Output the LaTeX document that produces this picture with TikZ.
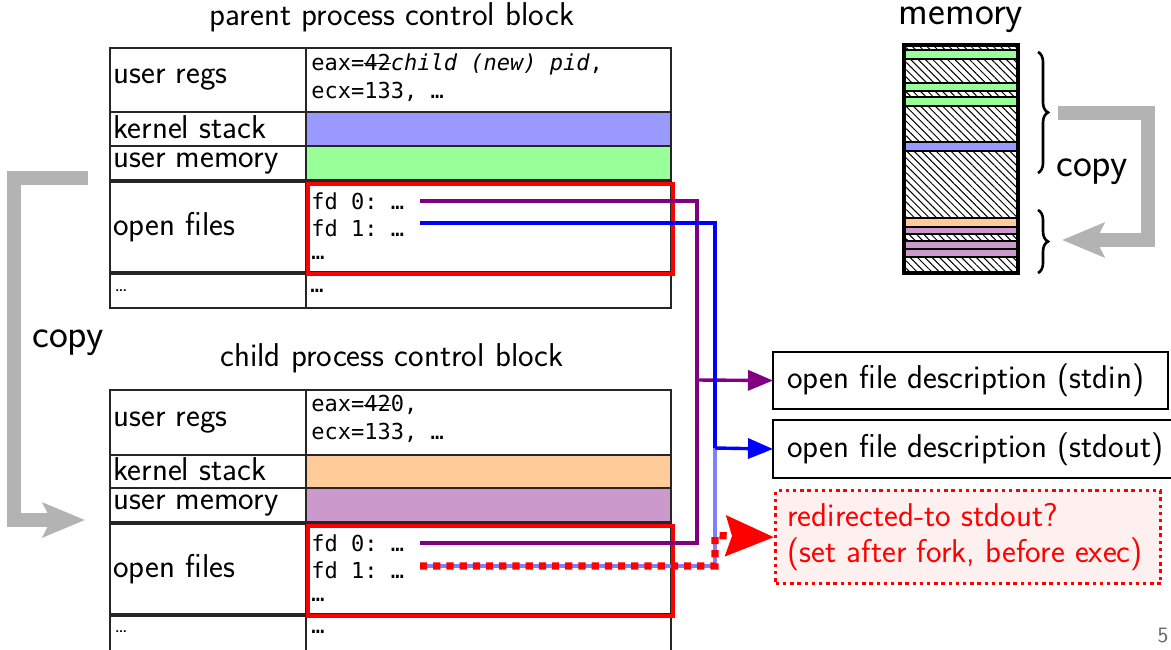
\documentclass[tikz,border=0pt]{standalone}
\usepackage{fontspec}
\setmonofont{DejaVu Sans Mono}
\usetikzlibrary{arrows.meta,patterns.meta,decorations.pathreplacing,calc}

\definecolor{kstackA}{HTML}{9999FF}
\definecolor{umemA}{HTML}{99FF99}
\definecolor{kstackB}{HTML}{FFCC99}
\definecolor{umemB}{HTML}{CC99CC}
\definecolor{fdpurple}{HTML}{800080}
\definecolor{copygray}{HTML}{B3B3B3}
\definecolor{redfill}{HTML}{FFF0F0}
\definecolor{lightblue}{HTML}{8080FF}

% strike a horizontal rule through its argument
\newcommand\struck[1]{\begingroup\setbox0\hbox{#1}\rlap{\rule[0.5ex]{\wd0}{0.6pt}}\box0\endgroup}

% a table cell given by its corners (in pixel-like units)
\newcommand\pcbcell[6]{\node[cell,anchor=north west,inner sep=0pt,outer sep=0pt,
  minimum width={(#4-#2)*0.5pt},minimum height={(#5-#3)*0.5pt},#6] (#1) at (#2,#3) {};}

% a strip of the memory column
\newcommand\memstrip[3]{\path[#3] (904,#1) rectangle (1018,#2);
  \draw[line width=1.1pt] (904,#1) rectangle (1018,#2);}

\tikzset{
  lbl/.style={font=\fontsize{16.5}{19}\selectfont\sffamily, inner sep=0pt},
  biglbl/.style={font=\fontsize{20}{23}\selectfont\sffamily, inner sep=0pt},
  mono/.style={font=\fontsize{11}{14}\selectfont\ttfamily, inner sep=0pt, align=left},
  cell/.style={draw=black!85, line width=0.7pt},
  fdbox/.style={draw=red, line width=2pt},
  fdline/.style={line width=1.7pt},
  fdtip/.style={-{Triangle[length=12.5pt,width=10pt]}},
  ofdbox/.style={draw, line width=1.4pt, anchor=north west, inner sep=0pt, outer sep=0pt},
  copyarrow/.style={draw=copygray, line width=7pt,
    -{Stealth[length=21pt,width=17pt,inset=4pt]}},
  hatch/.style={pattern={Lines[angle=-45,distance=2.6pt,line width=0.5pt]}},
}

\begin{document}
\begin{tikzpicture}[x=0.5pt,y=-0.5pt]
\useasboundingbox (0,0) rectangle (1171,649);

% ---------------- parent process control block ----------------
\node[lbl] (ptitle) at (392,17) {parent process control block};
\pcbcell{pregsL}{110}{48}{306}{112}{}
\pcbcell{pregsR}{306}{48}{671}{112}{}
\pcbcell{pkstL}{110}{112}{306}{146}{}
\pcbcell{pkstR}{306}{112}{671}{146}{fill=kstackA}
\pcbcell{pumemL}{110}{146}{306}{180}{}
\pcbcell{pumemR}{306}{146}{671}{180}{fill=umemA}
\pcbcell{pfilesL}{110}{182}{306}{272}{}
\pcbcell{pfilesR}{306}{182}{671}{272}{}
\pcbcell{pmoreL}{110}{274}{306}{308}{}
\pcbcell{pmoreR}{306}{274}{671}{308}{}
\node[fdbox,anchor=north west,inner sep=0pt,minimum width=182.5pt,minimum height=45pt] (pfdset) at (306,182) {};

\node[lbl,anchor=west] (pregsT) at ([xshift=1.5pt]pregsL.west) {user regs};
\node[lbl,anchor=west] (pkstT) at ([xshift=1.5pt,yshift=1pt]pkstL.west) {kernel stack};
\node[lbl,anchor=west] (pumemT) at ([xshift=1.5pt,yshift=-0.5pt]pumemL.west) {user memory};
\node[lbl,anchor=west] (pfilesT) at ([xshift=1.5pt]pfilesL.west) {open files};
\node[lbl,anchor=west,font=\fontsize{11}{13}\selectfont\sffamily] (pmoreT) at ([xshift=2pt]pmoreL.west) {…};
\node[mono,anchor=west] (pmoreV) at ([xshift=2pt]pmoreR.west) {…};
\node[mono,anchor=north west] (pregsV) at (311,53) {eax=\struck{42}{\itshape child (new) pid},\\ecx=133, …};
\node[mono,anchor=west] (pfd0) at (311,201) {fd 0: …};
\node[mono,anchor=west] (pfd1) at (311,228) {fd 1: …};
\node[mono,anchor=west] (pfdx) at (311,258) {…};

% ---------------- child process control block ----------------
\node[lbl] (ctitle) at (392,358) {child process control block};
\pcbcell{cregsL}{110}{390}{306}{455}{}
\pcbcell{cregsR}{306}{390}{671}{455}{}
\pcbcell{ckstL}{110}{455}{306}{488}{}
\pcbcell{ckstR}{306}{455}{671}{488}{fill=kstackB}
\pcbcell{cumemL}{110}{488}{306}{522}{}
\pcbcell{cumemR}{306}{488}{671}{522}{fill=umemB}
\pcbcell{cfilesL}{110}{524}{306}{614}{}
\pcbcell{cfilesR}{306}{524}{671}{614}{}
\pcbcell{cmoreL}{110}{616}{306}{652}{}
\pcbcell{cmoreR}{306}{616}{671}{652}{}
\node[fdbox,anchor=north west,inner sep=0pt,minimum width=182.5pt,minimum height=45pt] (cfdset) at (306,524) {};

\node[lbl,anchor=west] (cregsT) at ([xshift=1.5pt]cregsL.west) {user regs};
\node[lbl,anchor=west] (ckstT) at ([xshift=1.5pt,yshift=1pt]ckstL.west) {kernel stack};
\node[lbl,anchor=west] (cumemT) at ([xshift=1.5pt,yshift=-0.5pt]cumemL.west) {user memory};
\node[lbl,anchor=west] (cfilesT) at ([xshift=1.5pt]cfilesL.west) {open files};
\node[lbl,anchor=west,font=\fontsize{11}{13}\selectfont\sffamily] (cmoreT) at (114,632) {…};
\node[mono,anchor=west] (cmoreV) at (311,632) {…};
\node[mono,anchor=north west] (cregsV) at (311,395) {eax=\struck{42}0,\\ecx=133, …};
\node[mono,anchor=west] (cfd0) at (311,543) {fd 0: …};
\node[mono,anchor=west] (cfd1) at (311,570) {fd 1: …};
\node[mono,anchor=west] (cfdx) at (311,600) {…};

% ---------------- open file descriptions ----------------
\node[ofdbox,minimum width=197.5pt,minimum height=28.5pt] (stdin) at (773,352) {};
\node[lbl,anchor=west] (stdinT) at ([xshift=7pt]stdin.west) {open file description (stdin)};
\node[ofdbox,minimum width=215pt,minimum height=29pt] (stdout) at (773,420) {};
\node[lbl,anchor=west] (stdoutT) at ([xshift=7pt]stdout.west) {open file description (stdout)};
\node[draw=red,fill=redfill,line width=1.7pt,dash pattern=on 1.7pt off 1.9pt,
      anchor=north west,inner sep=0pt,minimum width=192.5pt,minimum height=46.5pt] (redir) at (774,489) {};
\node[lbl,anchor=west,text=red,align=left,font=\fontsize{16.5}{18}\selectfont\sffamily] (redirT) at ([xshift=6.5pt]redir.west)
  {redirected-to stdout?\\(set after fork, before exec)};

% ---------------- descriptor connectors ----------------
\coordinate (pfd0e) at (420,201);
\coordinate (pfd1e) at (420,223);
\coordinate (cfd0e) at (420,543);
\coordinate (cfd1e) at (420,566);
\coordinate (trunkP) at (697,380);
\coordinate (trunkB) at (715,448);
\coordinate (kink) at (715,535.5);

\draw[fdline,draw=fdpurple] (pfd0e) -| (trunkP) |- (cfd0e);
\draw[fdline,draw=fdpurple,fdtip] (trunkP) -- (stdin.west);
\draw[fdline,draw=lightblue] (trunkB) |- (cfd1e);
\draw[fdline,draw=blue] (pfd1e) -| (trunkB);
\draw[fdline,draw=blue,fdtip] (trunkB) -- (stdout.west);
\draw[draw=red,line width=3.6pt,dash pattern=on 3.6pt off 3pt,
      -{Stealth[length=24pt,width=20pt,inset=3pt]}] (cfd1e) -| (kink) -- (redir.west);

% ---------------- copy of the control block ----------------
\coordinate (pcopyS) at (88,178);
\coordinate (ccopyE) at (85,520);
\draw[copyarrow] (pcopyS) -- (14,178) |- (ccopyE);
\node[biglbl] (copyL) at (68,343) {copy};

% ---------------- memory column ----------------
\node[biglbl] (memT) at (961,20) {memory};
\memstrip{45}{50}{hatch}
\memstrip{50}{59}{fill=umemA}
\memstrip{59}{83}{hatch}
\memstrip{83}{91}{fill=umemA}
\memstrip{91}{97}{hatch}
\memstrip{97}{106}{fill=umemA}
\memstrip{106}{142}{hatch}
\memstrip{142}{151}{fill=kstackA}
\memstrip{151}{218}{hatch}
\memstrip{218}{227}{fill=kstackB}
\memstrip{227}{234}{fill=umemB}
\memstrip{234}{241}{hatch}
\memstrip{241}{249}{fill=umemB}
\memstrip{249}{257}{fill=umemB}
\memstrip{257}{273}{hatch}
\node[draw,line width=1.6pt,anchor=north west,inner sep=0pt,outer sep=0pt,
      minimum width=57pt,minimum height=114pt] (memcol) at (904,45) {};

\coordinate (bA1) at (1038,52);
\coordinate (bA2) at (1038,173);
\coordinate (bB1) at (1038,210);
\coordinate (bB2) at (1038,273);
\draw[decorate,decoration={brace,amplitude=5pt},line width=1.3pt] (bA1) -- (bA2);
\draw[decorate,decoration={brace,amplitude=5pt},line width=1.3pt] (bB1) -- (bB2);

\coordinate (mcopyS) at (1058,113);
\coordinate (mcopyE) at (1062,240);
\draw[copyarrow] (mcopyS) -- (1148,113) |- (mcopyE);
\node[biglbl] (copyR) at (1092,172) {copy};

% slide number
\node[font=\fontsize{11}{13}\selectfont\sffamily,text=black!60] (pagenum) at (1163,636) {5};
\end{tikzpicture}
\end{document}
